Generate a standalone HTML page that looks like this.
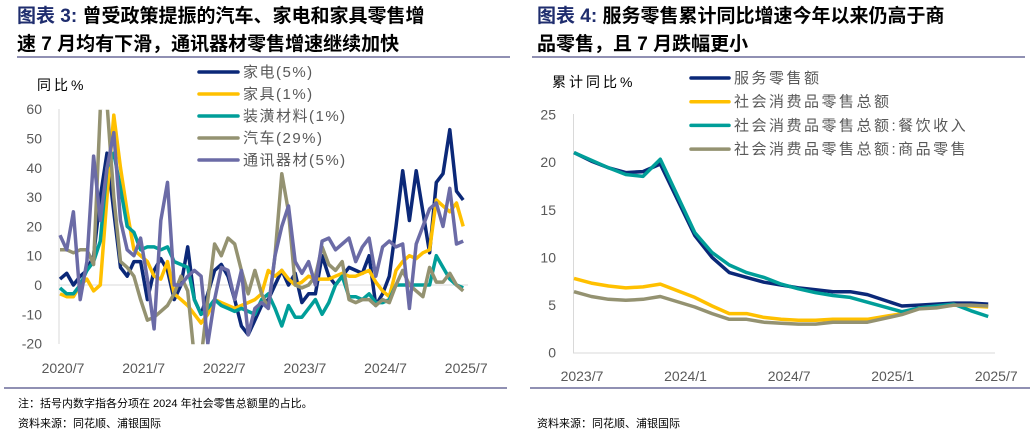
<!DOCTYPE html>
<html><head><meta charset="utf-8">
<style>
html,body{margin:0;padding:0;background:#fff;}
body{width:1032px;height:435px;overflow:hidden;position:relative;font-family:"Liberation Sans","Noto Sans CJK SC",sans-serif;}
svg text{font-family:"Liberation Sans","Noto Sans CJK SC",sans-serif;}
</style></head>
<body>
<svg id="root" width="1032" height="435" viewBox="0 0 1032 435" xmlns="http://www.w3.org/2000/svg">
  <defs>
    <clipPath id="clipL"><rect x="55" y="109.7" width="420" height="234.5"/></clipPath>
    <clipPath id="clipR"><rect x="570" y="100" width="430" height="260"/></clipPath>
  </defs>
  <g font-weight="bold" font-size="19" fill="#000">
    <text x="17" y="22"><tspan fill="#1f2d6e">图表 3:</tspan> 曾受政策提振的汽车、家电和家具零售增</text>
    <text x="17" y="50">速 7 月均有下滑，通讯器材零售增速继续加快</text>
  </g>
  <g font-weight="bold" font-size="19" fill="#000">
    <text x="537" y="22"><tspan fill="#1f2d6e">图表 4:</tspan> 服务零售累计同比增速今年以来仍高于商</text>
    <text x="537" y="50">品零售，且 7 月跌幅更小</text>
  </g>
  <line x1="17" y1="57" x2="510" y2="57" stroke="#6b6b9a" stroke-width="1.5"/>
  <line x1="532" y1="57" x2="1025" y2="57" stroke="#6b6b9a" stroke-width="1.5"/>
  <line x1="4" y1="388" x2="507" y2="388" stroke="#6b6b9a" stroke-width="1.5"/>
  <line x1="530" y1="388" x2="1030" y2="388" stroke="#6b6b9a" stroke-width="1.5"/>
  <text x="18" y="407" font-size="11" fill="#000">注：括号内数字指各分项在 2024 年社会零售总额里的占比。</text>
  <text x="18" y="427" font-size="11" fill="#000">资料来源：同花顺、浦银国际</text>
  <text x="537" y="427" font-size="11" fill="#000">资料来源：同花顺、浦银国际</text>
  <g id="left"></g>
  <g id="right"></g>
</svg>
<script>
// ---- Left chart data ----
const leftNames = ["家电(5%)","家具(1%)","装潢材料(1%)","汽车(29%)","通讯器材(5%)"];
const leftXTicks = ["2020/7","2021/7","2022/7","2023/7","2024/7","2025/7"];
const leftYTicks = [60,50,40,30,20,10,0,-10,-20];
const sApp = [2,4,0,3,5,10,30,45,25,6,3,8,8,-5,5,9,5,-5,0,13,-5,-10,-3,5,7,3,-5,-14,-17,-12,-7,-5,0,5,0,4,-6,-3,-3,10,3,0,3,6,5,4,10,-7,-3,3,20,39,22,39,25,11,35,38,53,32,29];
const sFur = [-3,-4,-4,0,2,-2,0,30,58,40,25,12,10,8,3,2,8,-3,-5,-7,-10,-13,-10,-5,-6,-7,-8,-7,-6,-5,-3,5,3,5,2,0,1,3,2,2,2,3,4,3,3,4,5,1,-2,-4,5,8,10,9,11,12,29,27,25,28,20];
const sDec = [-1,-3,-3,0,5,8,15,40,45,33,20,18,12,13,13,12,13,8,7,6,-5,-10,-8,-5,-7,-8,-9,-8,-9,-10,-5,-3,-8,-14,-7,-11,-11,-8,-5,-10,-6,0,3,-4,-4,-5,-3,-6,-6,-5,0,0,0,0,0,0,10,6,2,0,-1];
const sCar = [12,12,11,12,12,7,60,62,30,8,6,3,-5,-12,-11,-9,-7,-3,3,-2,-25,-25,-5,14,10,16,14,5,-3,5,-3,-8,10,38,25,0,-1,0,3,13,7,5,8,-5,-6,-5,-5,-7,-5,-6,0,5,0,-2,-4,6,1,1,4,0,-2];
const sTel = [17,12,25,-5,8,44,22,40,52,22,12,10,16,2,-15,22,35,0,0,3,5,3,-20,-5,6,5,-5,5,-17,-8,-6,-8,10,20,27,8,4,8,0,15,16,12,14,16,8,13,16,3,13,15,13,14,-8,14,20,26,28,20,33,14,15];
const leftColors = ["#0b2878","#ffc000","#009e99","#949271","#6b6ba6"];

// ---- Right chart data ----
const rightNames = ["服务零售额","社会消费品零售总额","社会消费品零售总额:餐饮收入","社会消费品零售总额:商品零售"];
const rightXTicks = ["2023/7","2024/1","2024/7","2025/1","2025/7"];
const rightYTicks = [25,20,15,10,5,0];
const rMonths = [0,1,2,3,4,5,7,8,9,10,11,12,13,14,15,16,17,19,20,21,22,23,24];
const rServ = [21,20.1,19.4,18.9,19,19.8,12.3,10,8.4,7.9,7.4,7.1,6.8,6.6,6.4,6.4,6.1,4.9,5,5.1,5.2,5.2,5.1];
const rTotal = [7.8,7.3,7,6.8,6.9,7.2,5.8,4.9,4.1,4.1,3.7,3.5,3.4,3.4,3.5,3.5,3.5,4.1,4.7,4.8,5,4.9,4.8];
const rFood = [21,20.2,19.4,18.7,18.5,20.3,12.6,10.5,9.2,8.4,7.9,7.2,6.7,6.3,6,5.8,5.3,4.3,4.7,4.9,5.1,4.4,3.8];
const rGoods = [6.4,5.9,5.6,5.5,5.6,5.9,4.8,4.1,3.5,3.5,3.2,3.1,3,3,3.2,3.2,3.2,4,4.6,4.7,5,5,4.9];
const rightColors = ["#0b2878","#ffc000","#009e99","#949271"];

const NS = "http://www.w3.org/2000/svg";
function mk(tag, attrs, parent){ const e=document.createElementNS(NS,tag); for(const k in attrs) e.setAttribute(k,attrs[k]); parent.appendChild(e); return e; }

// Left axes
const L = document.getElementById('left');
const lx = i => 60 + i*6.72;
const ly = v => 285 - v*2.93;
const ax1 = mk('line',{x1:59,y1:109,x2:59,y2:344,stroke:'#d9d9d9','stroke-width':1},L);


const z1 = mk('line',{x1:59,y1:ly(0),x2:468,y2:ly(0),stroke:'#d9d9d9','stroke-width':1},L);


leftYTicks.forEach(v=>{
  const t = mk('text',{x:42,y:ly(v)+5,'text-anchor':'end','font-size':14,fill:'#595959'},L);
  t.textContent = v;
  
  
});
leftXTicks.forEach((s,k)=>{
  const t = mk('text',{x:lx(k*12)+3,y:373,'text-anchor':'middle','font-size':14,fill:'#595959'},L);
  t.textContent = s;
  
  
});
const yl = mk('text',{x:37,y:90,'font-size':14,fill:'#000','letter-spacing':3},L);
yl.textContent = '同比%';


const seriesL = [sApp,sFur,sDec,sCar,sTel];
const lg = mk('g',{'clip-path':'url(#clipL)'},L);


seriesL.forEach((s,k)=>{
  const p = mk('polyline',{points:s.map((v,i)=>lx(i).toFixed(1)+','+ly(v).toFixed(1)).join(' '),fill:'none',stroke:leftColors[k],'stroke-width':3.5,'stroke-linejoin':'round'},lg);
  
  
});
leftNames.forEach((n,k)=>{
  const y = 72 + k*22;
  const ln = mk('line',{x1:199,y1:y,x2:238,y2:y,stroke:leftColors[k],'stroke-width':3.5,'stroke-linecap':'round'},L);
  
  
  const t = mk('text',{x:243,y:y+5,'font-size':15,fill:'#595959','letter-spacing':1.5},L);
  t.textContent = n;
  
  
});

// Right axes
const R = document.getElementById('right');
const rx = m => 574 + m*17.26;
const ry = v => 352.7 - v*9.53;
const ax2 = mk('line',{x1:573.5,y1:114,x2:573.5,y2:353,stroke:'#d9d9d9','stroke-width':1},R);


const ax3 = mk('line',{x1:573,y1:353,x2:995,y2:353,stroke:'#d9d9d9','stroke-width':1},R);


rightYTicks.forEach(v=>{
  const t = mk('text',{x:556,y:ry(v)+5,'text-anchor':'end','font-size':14,fill:'#595959'},R);
  t.textContent = v;
  
  
});
rightXTicks.forEach((s,k)=>{
  const t = mk('text',{x:rx(k*6)+8,y:381,'text-anchor':'middle','font-size':14,fill:'#595959'},R);
  t.textContent = s;
  
  
});
const yr = mk('text',{x:552,y:87,'font-size':14,fill:'#000','letter-spacing':3},R);
yr.textContent = '累计同比%';


const seriesR = [rServ,rTotal,rFood,rGoods];
const rg = mk('g',{'clip-path':'url(#clipR)'},R);


seriesR.forEach((s,k)=>{
  const p = mk('polyline',{points:s.map((v,i)=>rx(rMonths[i]).toFixed(1)+','+ry(v).toFixed(1)).join(' '),fill:'none',stroke:rightColors[k],'stroke-width':3.5,'stroke-linejoin':'round'},rg);
  
  
});
rightNames.forEach((n,k)=>{
  const y = 78 + k*23.7;
  const ln = mk('line',{x1:691,y1:y,x2:729,y2:y,stroke:rightColors[k],'stroke-width':3.5,'stroke-linecap':'round'},R);
  
  
  const t = mk('text',{x:734,y:y+5,'font-size':15,fill:'#595959','letter-spacing':2.5},R);
  t.textContent = n;
  
  
});
</script>
</body></html>
